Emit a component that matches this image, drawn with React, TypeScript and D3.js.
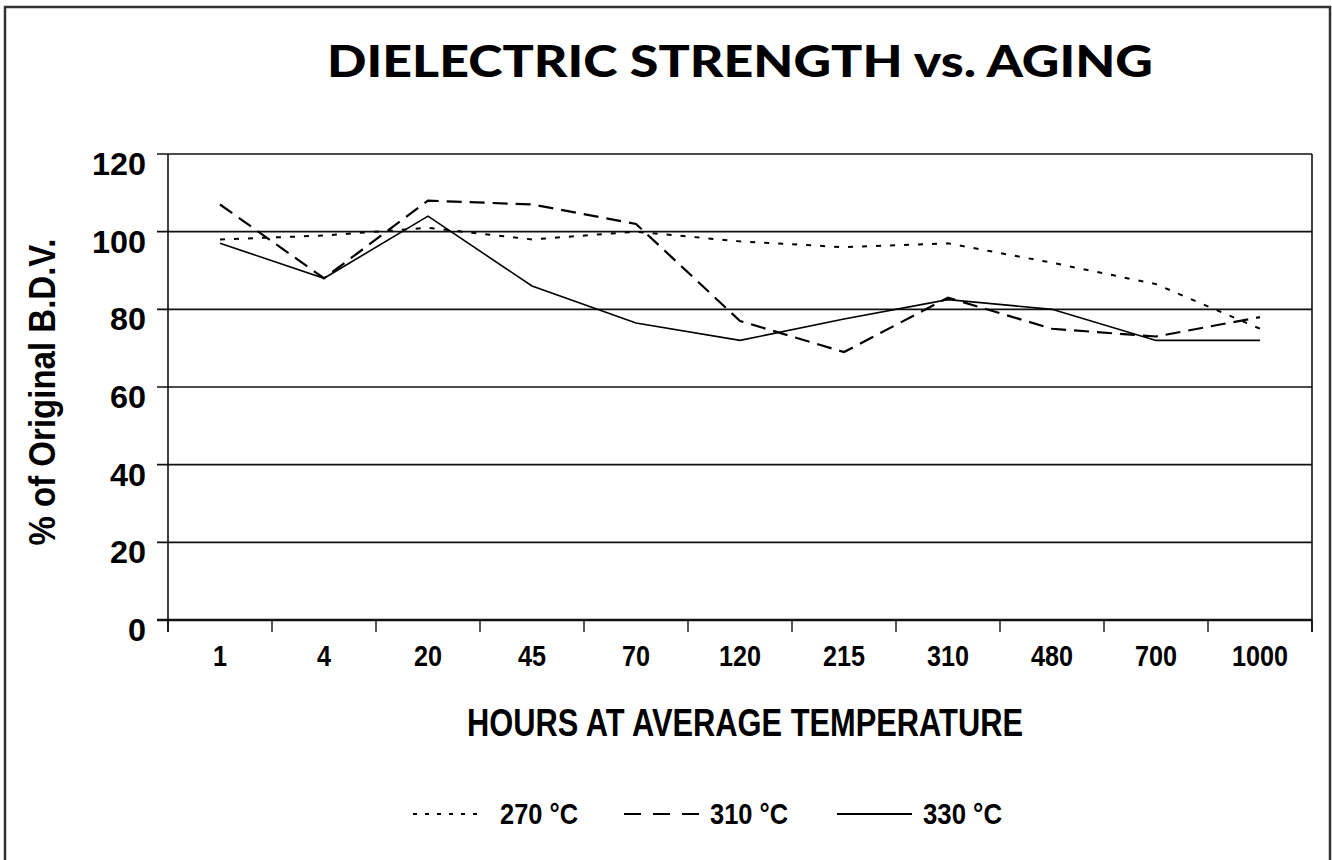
import React from "react";
import * as d3 from "d3";

const hours = ["1", "4", "20", "45", "70", "120", "215", "310", "480", "700", "1000"];
const s270 = [98, 99, 101, 98, 100, 97.5, 96, 97, 92, 86.5, 75];
const s310 = [107, 88, 108, 107, 102, 77, 69, 83, 75, 73, 78];
const s330 = [97, 88, 104, 86, 76.5, 72, 77.5, 82.5, 80, 72, 72];
const yTicks = [0, 20, 40, 60, 80, 100, 120];
const seriesNames = ["270 °C", "310 °C", "330 °C"];

const W = 1332;
const H = 860;
const L = 168;
const R = 1312;
const T = 154;
const B = 620;
const narrow = "'Liberation Sans Narrow', 'Arial Narrow', 'Liberation Sans', Arial, sans-serif";

export default function App() {
  const x = d3.scaleBand<string>().domain(hours).range([L, R]).padding(0);
  const y = d3.scaleLinear().domain([0, 120]).range([B, T]);
  const cx = (h: string) => (x(h) as number) + x.bandwidth() / 2;
  const line = d3
    .line<number>()
    .x((_, i) => cx(hours[i]))
    .y((v) => y(v));

  const series = [
    { name: seriesNames[0], values: s270, dash: "5,9", width: 2, legendDash: "4,8", lx: 413, lw: 72, tx: 500, tw: 78 },
    { name: seriesNames[1], values: s310, dash: "15,8", width: 2.2, legendDash: "17,12", lx: 624, lw: 80, tx: 710, tw: 78 },
    { name: seriesNames[2], values: s330, dash: "none", width: 1.6, legendDash: "none", lx: 837, lw: 75, tx: 923, tw: 79 },
  ];

  const edges = hours.map((h) => x(h) as number).concat([R]);

  return (
    <svg
      width={W}
      height={H}
      style={{ position: "absolute", left: 0, top: 0, display: "block", background: "#fff" }}
    >
      <rect x={5} y={7} width={1325} height={900} fill="#fff" stroke="#333" strokeWidth={2.5} />

      <text
        x={740}
        y={77}
        textAnchor="middle"
        fontFamily="Lato, 'Open Sans', sans-serif"
        fontWeight={900}
        fontSize={44}
        textLength={826}
        lengthAdjust="spacingAndGlyphs"
        fill="#000"
      >
        DIELECTRIC STRENGTH vs. AGING
      </text>

      {/* gridlines and y ticks */}
      {yTicks.map((t) => (
        <g key={t}>
          <line x1={157} x2={R} y1={y(t)} y2={y(t)} stroke="#111" strokeWidth={t === 0 ? 2.5 : 1.6} />
          <text
            x={146}
            y={y(t) + 21}
            textAnchor="end"
            fontFamily={narrow}
            fontWeight="bold"
            fontSize={31}
            textLength={String(t).length * 18}
            lengthAdjust="spacingAndGlyphs"
            fill="#000"
          >
            {t}
          </text>
        </g>
      ))}

      {/* frame of plot */}
      <line x1={L} x2={L} y1={T} y2={632} stroke="#111" strokeWidth={1.6} />
      <line x1={R} x2={R} y1={T} y2={632} stroke="#111" strokeWidth={1.6} />

      {/* x ticks */}
      {edges.map((e, i) => (
        <line key={i} x1={e} x2={e} y1={B} y2={632} stroke="#111" strokeWidth={1.4} />
      ))}
      {hours.map((h) => (
        <text
          key={h}
          x={cx(h)}
          y={666}
          textAnchor="middle"
          fontFamily={narrow}
          fontWeight="bold"
          fontSize={29}
          textLength={h.length * 14}
          lengthAdjust="spacingAndGlyphs"
          fill="#000"
        >
          {h}
        </text>
      ))}

      {/* series */}
      {series.map((s) => (
        <path
          key={s.name}
          d={line(s.values) as string}
          fill="none"
          stroke="#000"
          strokeWidth={s.width}
          strokeDasharray={s.dash}
        />
      ))}

      <text
        x={467}
        y={736}
        fontFamily={narrow}
        fontWeight="bold"
        fontSize={39}
        textLength={556}
        lengthAdjust="spacingAndGlyphs"
        fill="#000"
      >
        HOURS AT AVERAGE TEMPERATURE
      </text>

      <text
        transform="translate(55,392) rotate(-90)"
        textAnchor="middle"
        fontFamily={narrow}
        fontWeight="bold"
        fontSize={36}
        textLength={307}
        lengthAdjust="spacingAndGlyphs"
        fill="#000"
      >
        % of Original B.D.V.
      </text>

      {/* legend */}
      {series.map((s) => (
        <g key={"lg" + s.name}>
          <line
            x1={s.lx}
            x2={s.lx + s.lw}
            y1={814}
            y2={814}
            stroke="#000"
            strokeWidth={2}
            strokeDasharray={s.legendDash}
          />
          <text
            x={s.tx}
            y={824}
            fontFamily={narrow}
            fontWeight="bold"
            fontSize={30}
            textLength={s.tw}
            lengthAdjust="spacingAndGlyphs"
            fill="#000"
          >
            {s.name}
          </text>
        </g>
      ))}
    </svg>
  );
}
